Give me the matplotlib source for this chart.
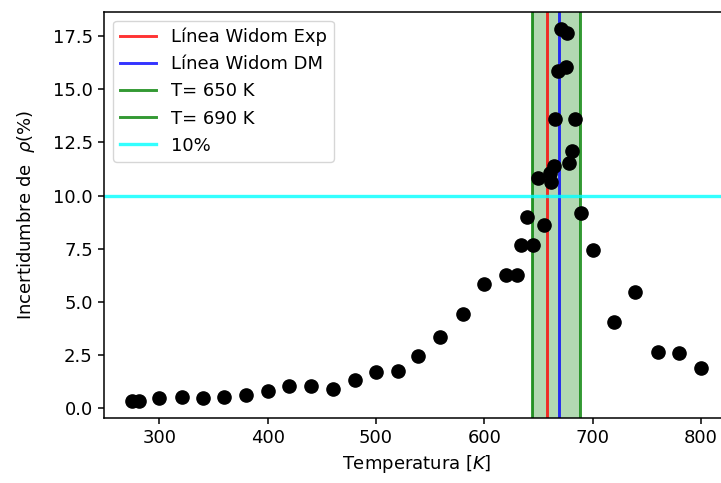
import matplotlib
matplotlib.use("Agg")
import matplotlib.pyplot as plt

# Temperatura (K) e incertidumbre relativa de la densidad (%)
temperatura = [275, 281, 300, 321, 340, 360, 380, 400, 420, 440, 460, 481,
               500, 520, 539, 559, 580, 600, 620, 630, 634, 639, 645, 650,
               655, 661, 662, 664, 665, 668, 671, 675, 676, 678, 681, 684,
               689, 700, 720, 739, 760, 780, 800]
incertidumbre = [0.36, 0.36, 0.47, 0.55, 0.47, 0.55, 0.63, 0.83, 1.06, 1.06,
                 0.91, 1.33, 1.69, 1.77, 2.47, 3.37, 4.42, 5.83, 6.27, 6.27,
                 7.68, 9.01, 7.68, 10.85, 8.62, 11.05, 10.66, 11.37, 13.59,
                 15.87, 17.83, 16.04, 17.64, 11.52, 12.12, 13.59,
                 9.2, 7.43, 4.07, 5.49, 2.66, 2.59, 1.88]

t_widom_exp = 657.5
t_widom_dm = 669.3
t_inf = 644
t_sup = 688.5
umbral = 10

fig = plt.figure(figsize=(7.21, 4.83), dpi=100)
ax = fig.add_axes([0.1442, 0.134, 1.0115 - 0.1442, 0.9758 - 0.134])

ax.axvspan(t_inf, t_sup, color="g", alpha=0.3, lw=0)
ax.axvline(t_widom_exp, color="r", alpha=0.8, lw=2.1, label="Línea Widom Exp")
ax.axvline(t_widom_dm, color="b", alpha=0.8, lw=2.1, label="Línea Widom DM")
ax.axvline(t_inf, color="g", alpha=0.8, lw=2.1, label="T= 650 K")
ax.axvline(t_sup, color="g", alpha=0.8, lw=2.1, label="T= 690 K")
ax.axhline(umbral, color="cyan", alpha=0.8, lw=2.4, label="10%")
ax.plot(temperatura, incertidumbre, "o", color="k", ms=9.5, zorder=3)

ax.set_xlim(248.75, 826.25)
ax.set_ylim(-0.47, 18.65)
ax.set_xticks([300, 400, 500, 600, 700, 800])
ax.set_yticks([0, 2.5, 5, 7.5, 10, 12.5, 15, 17.5])
ax.tick_params(labelsize=13, length=4.5, width=1.1)
for s in ax.spines.values():
    s.set_linewidth(1.1)
ax.set_xlabel("Temperatura $[K]$", fontsize=13)
ax.set_ylabel(r"Incertidumbre de  $\rho (\%)$", fontsize=13, labelpad=11)
ax.legend(loc="upper left", fontsize=13, framealpha=0.8)

fig.savefig("out.png", dpi=100)
